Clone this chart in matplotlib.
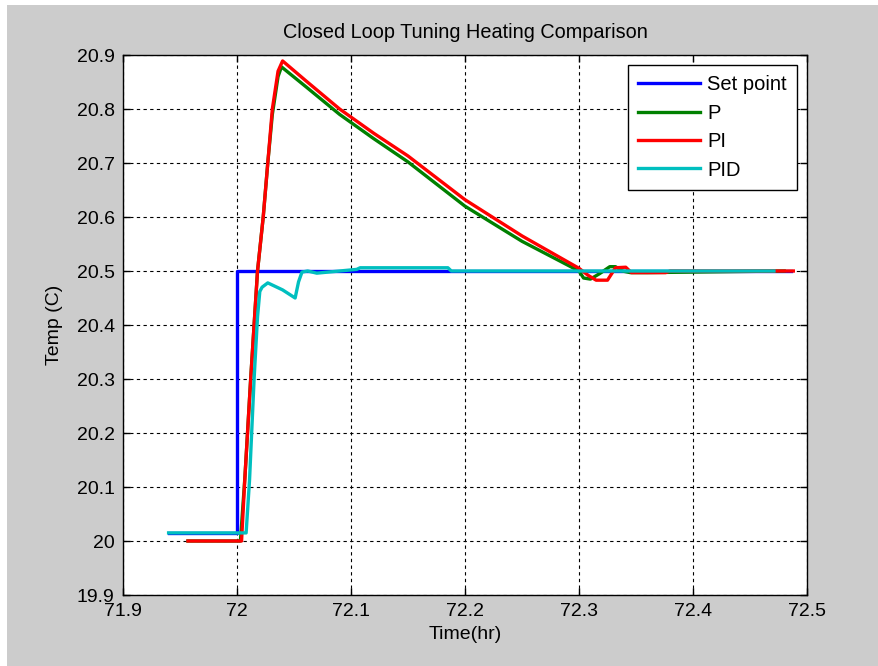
import matplotlib
matplotlib.use('Agg')
import matplotlib.pyplot as plt
from matplotlib.patches import Rectangle
from matplotlib.ticker import FuncFormatter

plt.rcParams['font.family'] = ['Liberation Sans', 'DejaVu Sans']

# Set point
sp_time = [71.94, 72.0, 72.0, 72.486]
sp_temp = [20.015, 20.015, 20.5, 20.5]

# P controller
p_time = [71.957, 72.003, 72.007, 72.012, 72.018, 72.023, 72.027, 72.031, 72.036, 72.039,
          72.06, 72.09, 72.12, 72.15, 72.2, 72.25, 72.3, 72.304, 72.31, 72.318,
          72.327, 72.332, 72.338, 72.345, 72.36, 72.48]
p_temp = [20.0, 20.0, 20.12, 20.3, 20.5, 20.6, 20.7, 20.79, 20.86, 20.878,
          20.842, 20.79, 20.745, 20.702, 20.62, 20.555, 20.5, 20.487, 20.485, 20.495,
          20.508, 20.508, 20.5, 20.497, 20.497, 20.5]

# PI controller
pi_time = [71.957, 72.004, 72.007, 72.012, 72.018, 72.023, 72.027, 72.031, 72.036, 72.040,
           72.06, 72.09, 72.12, 72.15, 72.2, 72.25, 72.3, 72.308, 72.315, 72.325,
           72.332, 72.341, 72.346, 72.376, 72.38, 72.488]
pi_temp = [20.0, 20.0, 20.12, 20.3, 20.5, 20.6, 20.7, 20.8, 20.87, 20.889,
           20.853, 20.80, 20.755, 20.713, 20.632, 20.565, 20.505, 20.492, 20.483, 20.483,
           20.506, 20.507, 20.497, 20.497, 20.5, 20.5]

# PID controller
pid_time = [71.94, 72.008, 72.011, 72.015, 72.018, 72.020, 72.022, 72.027, 72.04, 72.051,
            72.054, 72.057, 72.062, 72.07, 72.09, 72.105, 72.108, 72.185, 72.188, 72.471]
pid_temp = [20.015, 20.015, 20.113, 20.3, 20.415, 20.462, 20.47, 20.478, 20.465, 20.45,
            20.48, 20.498, 20.5, 20.496, 20.5, 20.503, 20.506, 20.506, 20.5, 20.5]

xticks = [71.9, 72.0, 72.1, 72.2, 72.3, 72.4, 72.5]
yticks = [19.9, 20.0, 20.1, 20.2, 20.3, 20.4, 20.5, 20.6, 20.7, 20.8, 20.9]

fig = plt.figure(figsize=(8.79, 6.66), dpi=100, facecolor='#cccccc')
# thin white strips on the left and top edges, as in the screenshot
fig.patches.append(Rectangle((0, 0), 7 / 879, 1, transform=fig.transFigure,
                             facecolor='white', edgecolor='none', zorder=0))
fig.patches.append(Rectangle((0, 1 - 5 / 666), 1, 5 / 666, transform=fig.transFigure,
                             facecolor='white', edgecolor='none', zorder=0))

ax = fig.add_axes([123 / 879, 71 / 666, 684 / 879, 540 / 666])
ax.set_facecolor('white')

lw = 2.4
ax.plot(sp_time, sp_temp, color='#0000ff', lw=lw, label='Set point')
ax.plot(p_time, p_temp, color='#008000', lw=lw, label='P')
ax.plot(pi_time, pi_temp, color='#ff0000', lw=lw, label='PI')
ax.plot(pid_time, pid_temp, color='#00bfbf', lw=lw, label='PID')

ax.set_xlim(71.9, 72.5)
ax.set_ylim(19.9, 20.9)
ax.set_xticks(xticks)
ax.set_yticks(yticks)
fmt = FuncFormatter(lambda v, pos: ('%.1f' % v).rstrip('0').rstrip('.'))
ax.xaxis.set_major_formatter(fmt)
ax.yaxis.set_major_formatter(fmt)

ax.tick_params(direction='in', top=True, right=True, length=5, width=1,
               labelsize=14, pad=6, colors='black')
for s in ax.spines.values():
    s.set_linewidth(1.0)
ax.grid(True, color='black', linestyle=(0, (3, 3)), linewidth=0.8)

ax.set_title('Closed Loop Tuning Heating Comparison', fontsize=14.3, pad=12)
ax.set_xlabel('Time(hr)', fontsize=14, labelpad=4)
ax.set_ylabel('Temp (C)', fontsize=14, labelpad=10)

leg = ax.legend(loc='upper right', fontsize=14.5, handlelength=3.1, handletextpad=0.35,
                labelspacing=0.47, borderaxespad=0.5, fancybox=False, framealpha=1,
                edgecolor='black', borderpad=0.5)
leg.get_frame().set_linewidth(1.0)

plt.savefig('out.png', dpi=100, facecolor=fig.get_facecolor())
